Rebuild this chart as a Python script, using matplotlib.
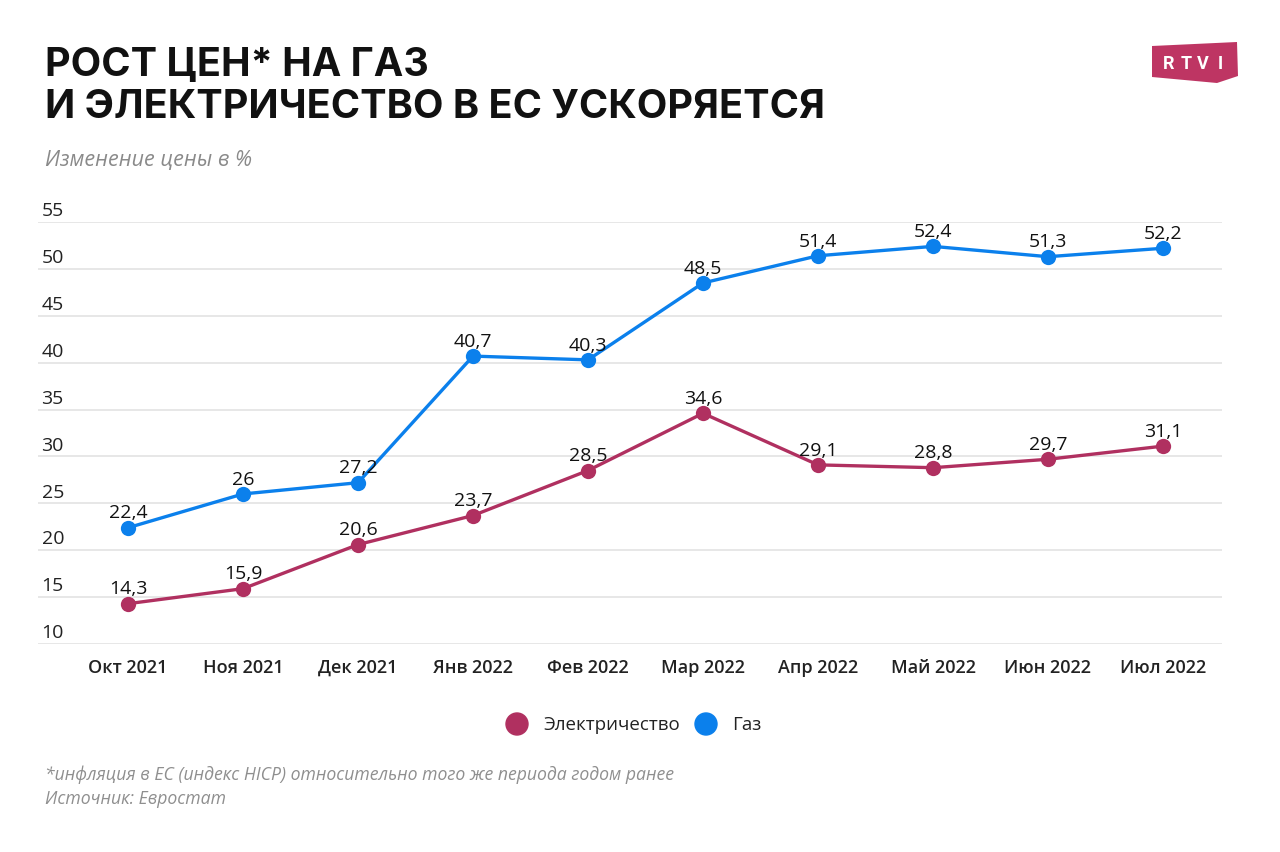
import matplotlib
matplotlib.use("Agg")
import matplotlib.pyplot as plt
from matplotlib.patches import Polygon, Ellipse
from matplotlib.transforms import blended_transform_factory

categories = ["Окт 2021", "Ноя 2021", "Дек 2021", "Янв 2022", "Фев 2022",
              "Мар 2022", "Апр 2022", "Май 2022", "Июн 2022", "Июл 2022"]
electricity = [14.3, 15.9, 20.6, 23.7, 28.5, 34.6, 29.1, 28.8, 29.7, 31.1]
gas = [22.4, 26, 27.2, 40.7, 40.3, 48.5, 51.4, 52.4, 51.3, 52.2]
yticks = [10, 15, 20, 25, 30, 35, 40, 45, 50, 55]

C_EL = "#B03060"
C_GAS = "#0B80EC"
FONT = ["Open Sans", "DejaVu Sans"]
TITLE_FONT = ["Inter", "DejaVu Sans"]

W, H = 1280, 853
fig = plt.figure(figsize=(W / 100, H / 100), dpi=100)
fig.patch.set_facecolor("white")

def fx(px): return px / W
def fy(py): return 1 - py / H

ax = fig.add_axes([fx(38), fy(645), fx(1222) - fx(38), fy(223) - fy(645)])
x = list(range(len(categories)))
ax.set_xlim(-90 / 115, 9 + 59 / 115)
ax.set_ylim(10, 55)
for s in ax.spines.values():
    s.set_visible(False)
ax.set_yticks([])
ax.set_xticks(x)
ax.set_xticklabels(categories, family=FONT, fontsize=13, fontweight="semibold", color="#222222")
ax.tick_params(axis="x", length=0, pad=10)
for v in yticks:
    ax.axhline(v, color="#e3e3e3", lw=1.2, zorder=0)
tr = blended_transform_factory(ax.transAxes, ax.transData)
for v in yticks:
    ax.text(0.003, v + 0.3, str(v), transform=tr, ha="left", va="bottom",
            family=FONT, fontsize=14, color="#222222")

for vals, col in [(electricity, C_EL), (gas, C_GAS)]:
    ax.plot(x, vals, color=col, lw=2.4, marker="o", ms=11, mec=col, mew=0,
            clip_on=False, zorder=3)
    for xi, v in zip(x, vals):
        lab = (f"{v:g}").replace(".", ",")
        ax.annotate(lab, (xi, v), xytext=(0, 4.5), textcoords="offset points",
                    ha="center", va="bottom", family=FONT, fontsize=14,
                    color="#111111", zorder=4)

fig.text(fx(45), fy(65), "РОСТ ЦЕН* НА ГАЗ", family=TITLE_FONT, fontsize=28.5,
         fontweight="bold", color="#111111", va="center", ha="left")
fig.text(fx(45), fy(108), "И ЭЛЕКТРИЧЕСТВО В ЕС УСКОРЯЕТСЯ", family=TITLE_FONT, fontsize=28.5,
         fontweight="bold", color="#111111", va="center", ha="left")
fig.text(fx(45), fy(160), "Изменение цены в %", family=FONT, fontsize=15.5,
         style="italic", color="#8a8a8a", va="center", ha="left")

# legend
fig.patches.append(Ellipse((fx(517), fy(725)), 22 / W, 22 / H, transform=fig.transFigure,
                           color=C_EL, figure=fig))
fig.patches.append(Ellipse((fx(706), fy(725)), 22 / W, 22 / H, transform=fig.transFigure,
                           color=C_GAS, figure=fig))
fig.text(fx(543), fy(725), "Электричество", family=FONT, fontsize=13.5,
         fontweight="medium", color="#222222", va="center", ha="left")
fig.text(fx(732), fy(725), "Газ", family=FONT, fontsize=13.5,
         fontweight="medium", color="#222222", va="center", ha="left")

fig.text(fx(45), fy(775), "*инфляция в ЕС (индекс HICP) относительно того же периода годом ранее",
         family=FONT, fontsize=12.7, style="italic", color="#8f8f8f", va="center", ha="left")
fig.text(fx(45), fy(799), "Источник: Евростат",
         family=FONT, fontsize=12.7, style="italic", color="#8f8f8f", va="center", ha="left")

# logo
logo = Polygon([(fx(1152), fy(47)), (fx(1237), fy(43)), (fx(1238), fy(77)),
                (fx(1217), fy(84)), (fx(1152), fy(78))],
               closed=True, transform=fig.transFigure, facecolor="#BE3563",
               edgecolor="none", figure=fig, zorder=1)
fig.patches.append(logo)
for i, ch in enumerate("RTVI"):
    fig.text(fx(1169 + i * 17), fy(64), ch, family=["Roboto", "DejaVu Sans"],
             fontsize=13, fontweight="bold", color="white", va="center", ha="center",
             zorder=5)

fig.savefig("out.png", dpi=100, facecolor="white")
